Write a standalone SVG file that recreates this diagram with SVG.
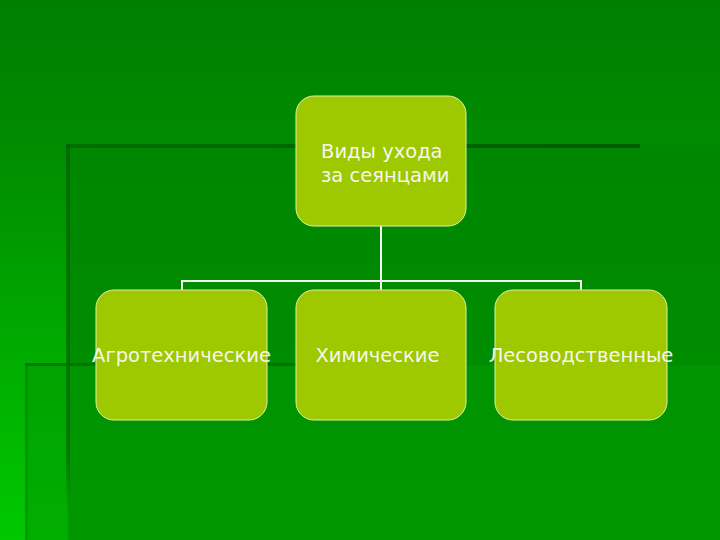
<svg xmlns="http://www.w3.org/2000/svg" width="720" height="540" viewBox="0 0 720 540">
  <defs>
    <linearGradient id="bgBase" x1="0" y1="0" x2="0" y2="1">
      <stop offset="0" stop-color="#007E00"/>
      <stop offset="0.27" stop-color="#008C00"/>
      <stop offset="1" stop-color="#00C800"/>
    </linearGradient>
    <linearGradient id="bgPanel" x1="0" y1="0" x2="0" y2="1">
      <stop offset="0" stop-color="#008600"/>
      <stop offset="1" stop-color="#009200"/>
    </linearGradient>
    <linearGradient id="fadeH1" x1="0" y1="0" x2="1" y2="0">
      <stop offset="0" stop-color="#006400" stop-opacity="0.7"/>
      <stop offset="0.5" stop-color="#006000" stop-opacity="0.85"/>
      <stop offset="1" stop-color="#005800" stop-opacity="0.95"/>
    </linearGradient>
    <linearGradient id="fadeH2" x1="0" y1="0" x2="1" y2="0">
      <stop offset="0" stop-color="#007000" stop-opacity="0.8"/>
      <stop offset="0.6" stop-color="#006800" stop-opacity="0.8"/>
      <stop offset="1" stop-color="#006800" stop-opacity="0"/>
    </linearGradient>
    <linearGradient id="fadeV1" x1="0" y1="0" x2="0" y2="1">
      <stop offset="0" stop-color="#006400" stop-opacity="0.75"/>
      <stop offset="0.85" stop-color="#006C00" stop-opacity="0.7"/>
      <stop offset="1" stop-color="#007000" stop-opacity="0"/>
    </linearGradient>
    <style>
      .box { fill: #9EC800; stroke: #E2F0A8; stroke-width: 1; }
      .lbl { font-family: "DejaVu Sans", Verdana, sans-serif; font-size: 19.5px; fill: #F6F6EC; }
      .conn { fill: none; stroke: #F2F6EE; stroke-width: 2; }
    </style>
  </defs>

  <!-- background -->
  <rect x="0" y="0" width="720" height="540" fill="url(#bgBase)"/>
  <rect x="68" y="145" width="652" height="395" fill="url(#bgPanel)"/>
  <rect x="25" y="365" width="695" height="175" fill="#009B00" fill-opacity="0.56"/>
  <rect x="66" y="144" width="574" height="4" fill="url(#fadeH1)"/>
  <rect x="66" y="144" width="4" height="366" fill="url(#fadeV1)"/>
  <rect x="25" y="363" width="455" height="3" fill="url(#fadeH2)"/>
  <rect x="25" y="363" width="3" height="177" fill="#007800" fill-opacity="0.4"/>

  <g id="connectors">
    <path class="conn" d="M381,226 V290 M182,290 V281 H581 V290"/>
  </g>

  <g id="root">
    <rect class="box" x="296" y="96" width="170" height="130" rx="18" ry="18"/>
    <text class="lbl" x="321" y="158">Виды ухода</text>
    <text class="lbl" x="321" y="182">за сеянцами</text>
  </g>

  <g id="agro">
    <rect class="box" x="96" y="290" width="171" height="130" rx="18" ry="18"/>
    <text class="lbl" x="181.5" y="362" text-anchor="middle">Агротехнические</text>
  </g>

  <g id="chem">
    <rect class="box" x="296" y="290" width="170" height="130" rx="18" ry="18"/>
    <text class="lbl" x="377.5" y="362" text-anchor="middle">Химические</text>
  </g>

  <g id="forest">
    <rect class="box" x="495" y="290" width="172" height="130" rx="18" ry="18"/>
    <text class="lbl" x="581" y="362" text-anchor="middle">Лесоводственные</text>
  </g>
</svg>
